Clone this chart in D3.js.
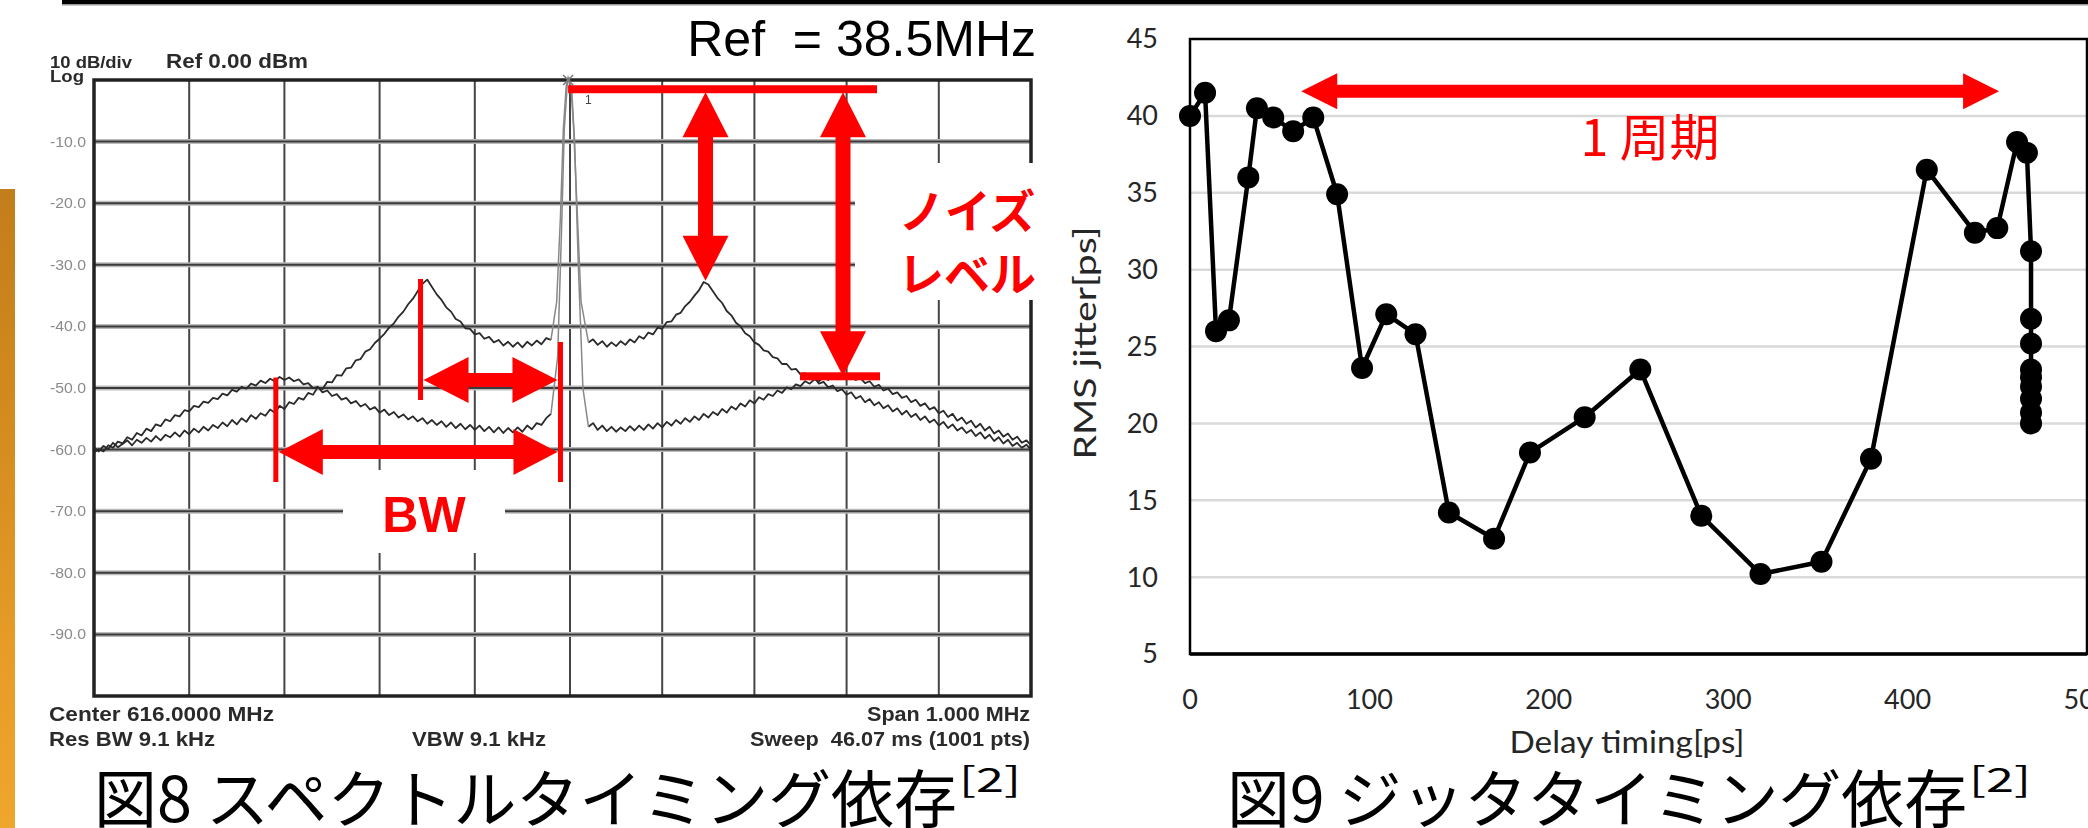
<!DOCTYPE html>
<html>
<head>
<meta charset="utf-8">
<script src="https://cdn.jsdelivr.net/npm/d3@7"></script>
<style>
  html, body { margin: 0; padding: 0; background: #ffffff; }
  svg { display: block; }
</style>
</head>
<body>
<svg id="fig" width="2088" height="828"></svg>
<script>
// ---------------- Spectrum (Fig. 8) ----------------
// Sweep positions are screen divisions (0..10 in 0.05 div steps); levels in dBm.
// The carrier region (4.85..5.15 div) is drawn separately below.
const traceA = [
  -59.6, -60.3, -59.4, -59.9, -58.9, -59.6, -59.1, -58.5, -59.3, -58.4,
  -58.9, -58.1, -58.7, -57.8, -58.5, -57.6, -58.0, -57.2, -57.9, -56.9,
  -57.5, -56.6, -57.2, -56.3, -56.9, -56.0, -56.5, -55.6, -56.2, -55.2,
  -55.9, -54.9, -55.5, -54.4, -55.0, -54.1, -54.5, -53.5, -54.0, -52.9,
  -53.4, -52.3, -52.6, -51.6, -51.9, -50.8, -51.1, -49.9, -50.2, -49.0,
  -49.1, -47.9, -48.0, -46.8, -46.7, -45.5, -45.3, -44.1, -43.7, -42.7,
  -42.0, -41.2, -40.2, -39.5, -38.4, -37.6, -36.4, -35.5, -34.3, -33.1,
  -32.4, -33.6, -34.8, -35.7, -36.9, -37.6, -38.8, -39.2, -40.3, -40.4,
  -41.3, -41.1, -42.0, -41.7, -42.6, -42.2, -43.1, -42.5, -43.3, -42.6,
  -43.4, -42.5, -43.1, -42.3, -42.9, -41.9, -42.2, null, null, null,
  null, null, null, null, -42.6, -42.1, -43.0, -42.4, -43.3, -42.6,
  -43.2, -42.4, -43.0, -42.1, -42.6, -41.6, -42.0, -41.0, -41.3, -40.2,
  -40.4, -39.3, -39.2, -38.1, -37.8, -36.7, -36.0, -35.0, -34.1, -32.8,
  -33.2, -34.3, -35.4, -36.2, -37.5, -38.2, -39.4, -40.0, -41.1, -41.6,
  -42.6, -43.0, -43.9, -44.1, -45.0, -45.2, -46.1, -46.1, -47.0, -46.9,
  -47.8, -47.6, -48.6, -48.3, -49.3, -49.0, -49.9, -49.6, -50.5, -50.2,
  -51.1, -50.7, -51.7, -51.3, -52.3, -51.8, -52.8, -52.3, -53.3, -52.8,
  -53.8, -53.3, -54.3, -53.7, -54.7, -54.2, -55.2, -54.6, -55.6, -55.1,
  -56.1, -55.5, -56.5, -55.9, -56.9, -56.4, -57.3, -56.8, -57.8, -57.2,
  -58.2, -57.6, -58.6, -58.0, -59.0, -58.4, -59.4, -58.9, -59.7, -59.2,
  -60.0
];
const traceB = [
  -60.5, -59.9, -60.3, -59.3, -59.7, -58.7, -59.0, -58.0, -58.4, -57.3,
  -57.7, -56.6, -57.0, -55.9, -56.2, -55.1, -55.4, -54.4, -54.6, -53.6,
  -53.8, -52.9, -53.1, -52.2, -52.4, -51.6, -51.8, -50.9, -51.2, -50.3,
  -50.6, -49.8, -50.1, -49.3, -49.6, -48.8, -49.2, -48.5, -48.9, -48.2,
  -48.7, -48.3, -48.9, -48.6, -49.4, -49.2, -50.0, -49.8, -50.7, -50.4,
  -51.3, -51.0, -51.9, -51.6, -52.5, -52.1, -53.0, -52.6, -53.5, -53.1,
  -54.0, -53.5, -54.4, -53.9, -54.8, -54.3, -55.1, -54.6, -55.4, -54.9,
  -55.8, -55.2, -56.0, -55.4, -56.3, -55.6, -56.5, -55.8, -56.7, -56.0,
  -56.8, -56.1, -57.0, -56.3, -57.2, -56.4, -57.3, -56.5, -57.2, -56.4,
  -57.1, -56.1, -56.7, -55.7, -56.0, -54.9, -54.2, null, null, null,
  null, null, null, null, -56.3, -55.7, -56.8, -56.1, -57.0, -56.3,
  -57.1, -56.4, -57.0, -56.2, -56.9, -56.1, -56.8, -55.9, -56.6, -55.7,
  -56.4, -55.5, -56.1, -55.2, -55.8, -54.9, -55.5, -54.6, -55.2, -54.2,
  -54.8, -53.9, -54.4, -53.4, -54.0, -53.0, -53.5, -52.5, -53.0, -52.0,
  -52.5, -51.5, -51.9, -51.0, -51.3, -50.4, -50.8, -49.9, -50.2, -49.4,
  -49.7, -48.9, -49.3, -48.6, -48.9, -48.3, -48.7, -48.1, -48.6, -48.0,
  -48.5, -48.1, -48.7, -48.4, -49.2, -48.9, -49.8, -49.5, -50.4, -50.1,
  -51.0, -50.7, -51.6, -51.3, -52.3, -51.9, -52.9, -52.5, -53.5, -53.1,
  -54.1, -53.7, -54.7, -54.2, -55.3, -54.8, -55.8, -55.3, -56.4, -55.8,
  -56.9, -56.3, -57.4, -56.9, -57.9, -57.4, -58.4, -57.9, -58.9, -58.5,
  -59.3
];
// Carrier (38.5 MHz reference line) for each sweep: [division, dBm]
const carrierA = [[4.8,-42.2],[4.86,-36],[4.9,-22],[4.93,-8],[4.96,-1],[4.98,0.4],[5.01,-1],[5.04,-8],[5.08,-22],[5.12,-36],[5.2,-42.6]];
const carrierB = [[4.8,-54.2],[4.87,-45],[4.91,-25],[4.94,-8],[4.97,-1],[4.99,0.4],[5.02,-2],[5.05,-10],[5.09,-30],[5.14,-50],[5.2,-56.3]];
const dbTicks = [-10, -20, -30, -40, -50, -60, -70, -80, -90];

// ---------------- Jitter vs delay (Fig. 9) ----------------
const delayPs = [0, 8.4, 14.5, 21.7, 32.5, 37.3, 46.4, 57.5, 68.7, 82, 95.9, 109.4, 125.7,
  144.3, 169.5, 189.5, 220, 251, 285, 318, 352, 379.6, 410.7, 437.5, 450, 461, 466.5,
  468.8, 468.8, 468.8, 468.8, 468.8, 468.8, 468.8, 468.8, 468.8];
const jitterPs = [40.0, 41.5, 26.0, 26.7, 36.0, 40.5, 39.9, 39.0, 39.9, 34.9, 23.6, 27.1, 25.8,
  14.2, 12.5, 18.1, 20.4, 23.5, 14.0, 10.2, 11.0, 17.7, 36.5, 32.4, 32.7, 38.3, 37.6,
  31.2, 26.8, 25.2, 23.5, 23.0, 22.4, 21.6, 20.7, 20.0];
const jitterTicks = [5, 10, 15, 20, 25, 30, 35, 40, 45];
const delayTicks = [0, 100, 200, 300, 400, 500];

const svg = d3.select("#fig");
const defs = svg.append("defs");

const strip = defs.append("linearGradient").attr("id", "strip")
  .attr("x1", 0).attr("x2", 0).attr("y1", 0).attr("y2", 1);
[[0, "#c27e1b"], [0.35, "#d38a1f"], [0.7, "#e59b26"], [1, "#efa62d"]]
  .forEach(([o, c]) => strip.append("stop").attr("offset", o).attr("stop-color", c));
defs.append("filter").attr("id", "soft")
  .append("feGaussianBlur").attr("stdDeviation", 0.7);

// page furniture: header rule and the slide's orange edge
svg.append("rect").attr("x", 62).attr("y", 0).attr("width", 2026).attr("height", 4).attr("fill", "#000");
svg.append("rect").attr("x", 62).attr("y", 4).attr("width", 2026).attr("height", 1.5).attr("fill", "#999");
svg.append("rect").attr("x", 0).attr("y", 189).attr("width", 15).attr("height", 639).attr("fill", "url(#strip)");

// ---------- spectrum analyzer screen ----------
const xS = d3.scaleLinear().domain([0, 5, 10]).range([94, 570, 1031]);
const yS = d3.scaleLinear().domain([0, -100]).range([80, 696]);

const spec = svg.append("g").attr("filter", "url(#soft)");
spec.selectAll("line.col").data(d3.range(1, 10)).join("line")
  .attr("x1", d => xS(d)).attr("x2", d => xS(d))
  .attr("y1", yS(0)).attr("y2", yS(-100))
  .attr("stroke", "#444").attr("stroke-width", 2);
spec.selectAll("line.row").data(d3.range(-10, -100, -10)).join("line")
  .attr("x1", xS(0)).attr("x2", xS(10))
  .attr("y1", d => yS(d)).attr("y2", d => yS(d))
  .attr("stroke", "#bbb").attr("stroke-width", 5);
spec.selectAll("line.row2").data(d3.range(-10, -100, -10)).join("line")
  .attr("x1", xS(0)).attr("x2", xS(10))
  .attr("y1", d => yS(d)).attr("y2", d => yS(d))
  .attr("stroke", "#3a3a3a").attr("stroke-width", 2);
spec.append("rect").attr("x", xS(0)).attr("y", yS(0))
  .attr("width", xS(10) - xS(0)).attr("height", yS(-100) - yS(0))
  .attr("fill", "none").attr("stroke", "#222").attr("stroke-width", 3.5);

spec.selectAll("text.tick").data(dbTicks).join("text")
  .attr("x", 86).attr("y", d => yS(d) + 5)
  .attr("text-anchor", "end")
  .attr("font-family", "Liberation Sans Narrow, Liberation Sans, Arial")
  .attr("font-size", 14).attr("fill", "#8a8a8a")
  .attr("textLength", 36).attr("lengthAdjust", "spacingAndGlyphs")
  .text(d => d.toFixed(1));

const sweep = arr => arr.map((v, i) => [i / 20, v]);
const traceLine = d3.line()
  .defined(d => d[1] !== null)
  .x(d => xS(d[0])).y(d => yS(d[1]));
[traceA, traceB].forEach(t => {
  spec.append("path").attr("d", traceLine(sweep(t)))
    .attr("fill", "none").attr("stroke", "#2a2a2a").attr("stroke-width", 1.8)
    .attr("stroke-linejoin", "round");
});
[carrierA, carrierB].forEach(c => {
  spec.append("path").attr("d", traceLine(c))
    .attr("fill", "none").attr("stroke", "#888").attr("stroke-width", 1.5);
});
// marker 1 on the carrier
const mx = xS(4.98), my = yS(0);
spec.append("path").attr("d", `M${mx - 5},${my - 5}L${mx + 5},${my + 5}M${mx + 5},${my - 5}L${mx - 5},${my + 5}`)
  .attr("stroke", "#777").attr("stroke-width", 1.5);
spec.append("text").attr("x", mx + 17).attr("y", my + 24)
  .attr("font-family", "Liberation Sans").attr("font-size", 12).attr("fill", "#444").text("1");

const specTxt = (x, y, s, w, size, anchor) => spec.append("text")
  .attr("x", x).attr("y", y).attr("text-anchor", anchor || "start")
  .attr("font-family", "Liberation Sans Narrow, Liberation Sans, Arial")
  .attr("font-weight", "bold").attr("font-size", size).attr("fill", "#2a2a2a")
  .attr("textLength", w).attr("lengthAdjust", "spacingAndGlyphs")
  .style("white-space", "pre").text(s);
specTxt(50, 68, "10 dB/div", 82, 16);
specTxt(50, 82, "Log", 34, 16);
specTxt(166, 68, "Ref 0.00 dBm", 142, 21);
specTxt(49, 721, "Center 616.0000 MHz", 225, 21);
specTxt(49, 746, "Res BW 9.1 kHz", 166, 21);
specTxt(412, 746, "VBW 9.1 kHz", 134, 21);
specTxt(1030, 721, "Span 1.000 MHz", 163, 21, "end");
specTxt(1030, 746, "Sweep  46.07 ms (1001 pts)", 280, 21, "end");

// ---------- annotations on the spectrum ----------
const red = "#ff0000";
const ann = svg.append("g");
function dArrow(x1, y1, x2, y2, w, hl, hw) {
  const L = Math.hypot(x2 - x1, y2 - y1), ux = (x2 - x1) / L, uy = (y2 - y1) / L;
  const nx = -uy, ny = ux;
  const b1 = [x1 + ux * hl, y1 + uy * hl], b2 = [x2 - ux * hl, y2 - uy * hl];
  const p = (b, s) => [b[0] + nx * s, b[1] + ny * s];
  const pts = [[x1, y1], p(b1, hw / 2), p(b1, w / 2), p(b2, w / 2), p(b2, hw / 2), [x2, y2],
    p(b2, -hw / 2), p(b2, -w / 2), p(b1, -w / 2), p(b1, -hw / 2)];
  return "M" + pts.map(q => q.join(",")).join("L") + "Z";
}
// white panels behind the labels
ann.append("rect").attr("x", 343).attr("y", 470).attr("width", 162).attr("height", 83).attr("fill", "#fff");
ann.append("rect").attr("x", 855).attr("y", 163).attr("width", 190).attr("height", 137).attr("fill", "#fff");

// reference level bar and the two noise-level arrows
ann.append("rect").attr("x", xS(4.98)).attr("y", yS(-1.5) - 4).attr("width", 877 - xS(4.98)).attr("height", 8).attr("fill", red);
ann.append("rect").attr("x", 800).attr("y", yS(-48.1) - 4).attr("width", 80).attr("height", 8).attr("fill", red);
ann.append("path").attr("d", dArrow(xS(6.47), yS(-2), xS(6.47), yS(-32.6), 15, 45, 46)).attr("fill", red);
ann.append("path").attr("d", dArrow(843, yS(-2), 843, yS(-48.1), 15, 45, 46)).attr("fill", red);

// bandwidth markers
const vline = (x, y1, y2) => ann.append("rect").attr("x", x - 2.5).attr("y", y1).attr("width", 5).attr("height", y2 - y1).attr("fill", red);
vline(xS(3.43), yS(-32.3), 400);
vline(xS(4.9), 342, 482);
vline(xS(1.91), yS(-48.3), 482);
ann.append("path").attr("d", dArrow(xS(3.43) + 3, 380, xS(4.9) - 3, 380, 14, 45, 46)).attr("fill", red);
ann.append("path").attr("d", dArrow(xS(1.91) + 3, 452, xS(4.9) - 3, 452, 14, 44, 46)).attr("fill", red);

ann.append("text").attr("x", 424).attr("y", 532).attr("text-anchor", "middle")
  .attr("font-family", "Liberation Sans, Arial").attr("font-weight", "bold")
  .attr("font-size", 50).attr("fill", red).text("BW");
[["ノイズ", 228], ["レベル", 291]].forEach(([s, y]) =>
  ann.append("text").attr("x", 967).attr("y", y).attr("text-anchor", "middle")
    .attr("font-family", "Noto Sans CJK JP").attr("font-weight", "bold")
    .attr("font-size", 46).attr("fill", red).text(s));

svg.append("text").attr("x", 1036).attr("y", 56).attr("text-anchor", "end")
  .attr("font-family", "Liberation Sans, Arial").attr("font-size", 50).attr("fill", "#000")
  .style("white-space", "pre").text("Ref  = 38.5MHz");

// ---------- jitter chart ----------
const xR = d3.scaleLinear().domain([0, 500]).range([1190, 2087]);
const yR = d3.scaleLinear().domain([5, 45]).range([654, 39]);
const jit = svg.append("g");
jit.selectAll("line.grid").data(jitterTicks.slice(1, -1)).join("line")
  .attr("x1", xR(0)).attr("x2", xR(500))
  .attr("y1", d => yR(d)).attr("y2", d => yR(d))
  .attr("stroke", "#d9d9d9").attr("stroke-width", 2.5);
jit.append("rect").attr("x", xR(0)).attr("y", yR(45))
  .attr("width", xR(500) - xR(0)).attr("height", yR(5) - yR(45))
  .attr("fill", "none").attr("stroke", "#000").attr("stroke-width", 2.5);
jit.append("line").attr("x1", xR(0)).attr("x2", xR(500)).attr("y1", yR(5)).attr("y2", yR(5))
  .attr("stroke", "#000").attr("stroke-width", 3.5);

const tickFont = "Lato, Open Sans, sans-serif";
jit.selectAll("text.ytick").data(jitterTicks).join("text")
  .attr("x", 1158).attr("y", d => yR(d)).attr("dy", "0.35em")
  .attr("text-anchor", "end").attr("font-family", tickFont)
  .attr("font-size", 27).attr("fill", "#262626").text(d => d);
jit.selectAll("text.xtick").data(delayTicks).join("text")
  .attr("x", d => xR(d)).attr("y", 700).attr("dy", "0.35em")
  .attr("text-anchor", "middle").attr("font-family", tickFont)
  .attr("font-size", 27).attr("fill", "#262626").text(d => d);
jit.append("text").attr("x", 1627).attr("y", 753).attr("text-anchor", "middle")
  .attr("font-family", tickFont).attr("font-size", 30).attr("fill", "#262626")
  .attr("textLength", 235).attr("lengthAdjust", "spacingAndGlyphs")
  .text("Delay timing[ps]");
jit.append("text").attr("transform", "translate(1096,343) rotate(-90)")
  .attr("text-anchor", "middle")
  .attr("font-family", tickFont).attr("font-size", 30).attr("fill", "#262626")
  .attr("textLength", 233).attr("lengthAdjust", "spacingAndGlyphs")
  .text("RMS jitter[ps]");

const pts = delayPs.map((d, i) => [d, jitterPs[i]]);
jit.append("path")
  .attr("d", d3.line().x(d => xR(d[0])).y(d => yR(d[1]))(pts))
  .attr("fill", "none").attr("stroke", "#000").attr("stroke-width", 4.5)
  .attr("stroke-linejoin", "round");
jit.selectAll("circle.pt").data(pts).join("circle")
  .attr("cx", d => xR(d[0])).attr("cy", d => yR(d[1])).attr("r", 11).attr("fill", "#000");

// one-period annotation
jit.append("path").attr("d", dArrow(xR(62), yR(41.6), xR(451), yR(41.6), 13, 36, 36)).attr("fill", red);
jit.append("text").attr("x", 1650).attr("y", 156).attr("text-anchor", "middle")
  .attr("font-family", "Noto Sans CJK JP").attr("font-size", 50).attr("fill", red)
  .style("white-space", "pre").text("1 周期");

// ---------- figure captions ----------
function caption(x, w, main) {
  svg.append("text").attr("x", x).attr("y", 822)
    .attr("font-family", "Noto Sans CJK JP").attr("font-size", 63).attr("fill", "#000")
    .attr("textLength", w).attr("lengthAdjust", "spacingAndGlyphs")
    .style("white-space", "pre").text(main);
  svg.append("text").attr("x", x + w + 2).attr("y", 792)
    .attr("font-family", "Noto Sans CJK JP").attr("font-size", 34).attr("fill", "#000")
    .attr("textLength", 62).attr("lengthAdjust", "spacingAndGlyphs")
    .text("[2]");
}
caption(94, 863, "図8 スペクトルタイミング依存");
caption(1227, 740, "図9 ジッタタイミング依存");
</script>
</body>
</html>
